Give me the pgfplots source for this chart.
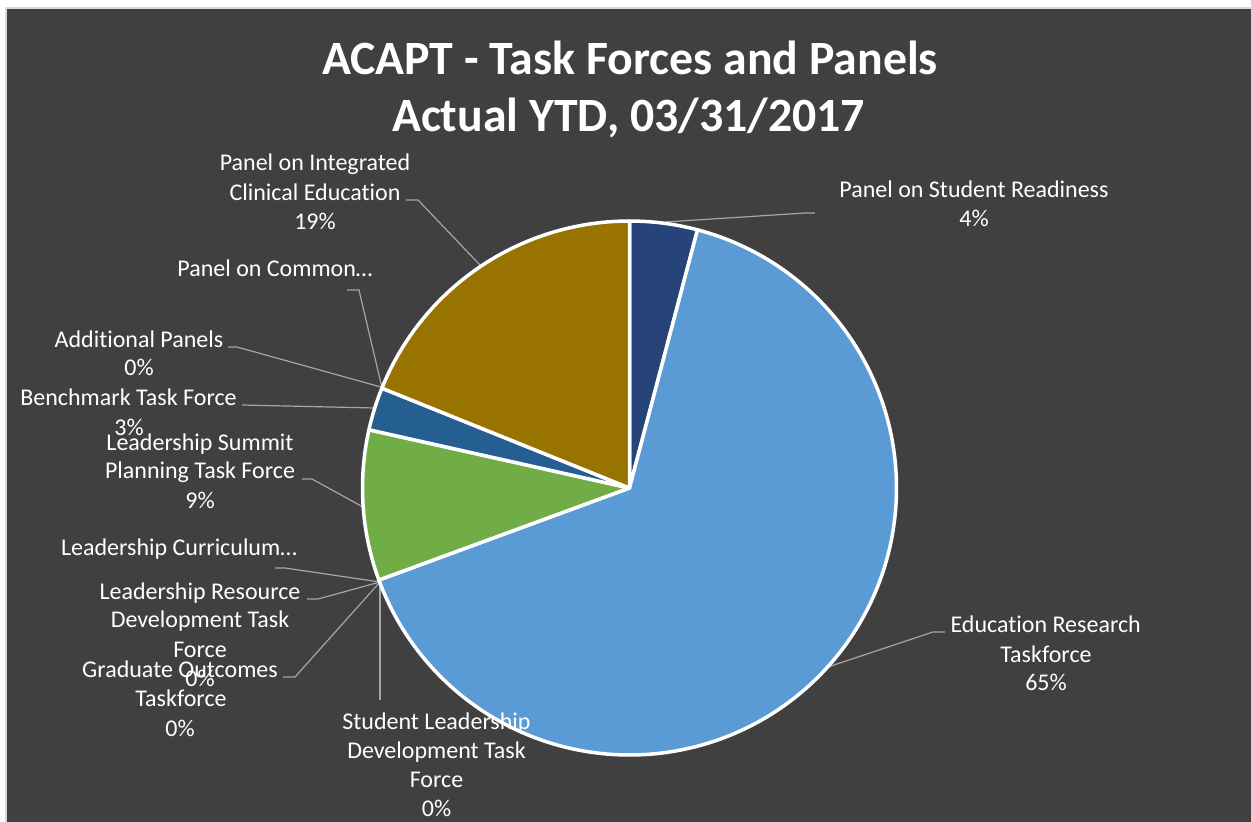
\documentclass[border=0pt]{standalone}
\usepackage{pgfplots}
\pgfplotsset{compat=1.18}
\usepackage{fontspec}
\setmainfont{Carlito}[Ligatures=NoCommon, RawFeature={-liga;-clig;-calt;-dlig}]
\definecolor{bg}{HTML}{404040}
\definecolor{bordergray}{HTML}{D9D9D9}
\definecolor{leader}{HTML}{A6A6A6}
\definecolor{cA}{HTML}{264478}
\definecolor{cB}{HTML}{5B9BD5}
\definecolor{cC}{HTML}{70AD47}
\definecolor{cD}{HTML}{255E91}
\definecolor{cE}{HTML}{997300}
\newcommand\lblfont{\fontsize{24}{29}\selectfont}
\newcommand\titlefont{\bfseries\fontsize{47.8}{57}\selectfont}
\newcommand\lbl[3]{\node[anchor=base, text=white, font=\lblfont, inner sep=0pt] at (axis cs:#1,#2) {#3};}
% Slice shares (percent), clockwise from 12 o'clock:
% Panel on Student Readiness 4.1; Education Research Taskforce 65.3;
% Student Leadership Dev. TF 0; Graduate Outcomes TF 0; Leadership Resource Dev. TF 0;
% Leadership Curriculum 0; Leadership Summit Planning TF 9.1; Benchmark TF 2.6;
% Additional Panels 0; Panel on Common 0; Panel on Integrated Clinical Education 18.9
\def\pA{4.1}\def\pB{65.3}\def\pC{9.1}\def\pD{2.6}\def\pE{18.9}
\begin{document}
\begin{tikzpicture}
\begin{axis}[width=1251pt, height=822pt, scale only axis,
  xmin=0, xmax=1251, ymin=0, ymax=822, y dir=reverse, hide axis]
\addplot[fill=white, draw=none] coordinates {(0,0) (1251,0) (1251,822) (0,822)} -- cycle;
\addplot[fill=bg, draw=none] coordinates {(6,8) (1251,8) (1251,822) (6,822)} -- cycle;
\addplot[draw=bordergray, line width=1.5pt] coordinates {(6,822) (6,8) (1251,8)};
% leader lines
\addplot[draw=leader, line width=1.2pt] coordinates {(665,222) (805,213) (815,213)};
\addplot[draw=leader, line width=1.2pt] coordinates {(406,200) (418,200) (480,265)};
\addplot[draw=leader, line width=1.2pt] coordinates {(347,290) (359,290) (382,388)};
\addplot[draw=leader, line width=1.2pt] coordinates {(228,347) (237,347) (381,387)};
\addplot[draw=leader, line width=1.2pt] coordinates {(242,405) (375,408)};
\addplot[draw=leader, line width=1.2pt] coordinates {(302,479) (312,479) (363,507)};
\addplot[draw=leader, line width=1.2pt] coordinates {(275,568) (285,568) (380,582)};
\addplot[draw=leader, line width=1.2pt] coordinates {(307,599) (318,599) (380,582)};
\addplot[draw=leader, line width=1.2pt] coordinates {(283,677) (295,677) (380,582)};
\addplot[draw=leader, line width=1.2pt] coordinates {(380,582) (380,700)};
\addplot[draw=leader, line width=1.2pt] coordinates {(828,667) (933,632) (945,632)};
% pie slices
\addplot[fill=cA, draw=white, line width=3.5pt, line join=round, domain=0:\pA*3.6, samples=20]
  ({629.5+267*sin(x)}, {488-267*cos(x)}) -- (axis cs:629.5,488) -- cycle;
\addplot[fill=cB, draw=white, line width=3.5pt, line join=round, domain=\pA*3.6:(\pA+\pB)*3.6, samples=200]
  ({629.5+267*sin(x)}, {488-267*cos(x)}) -- (axis cs:629.5,488) -- cycle;
\addplot[fill=cC, draw=white, line width=3.5pt, line join=round, domain=(\pA+\pB)*3.6:(\pA+\pB+\pC)*3.6, samples=40]
  ({629.5+267*sin(x)}, {488-267*cos(x)}) -- (axis cs:629.5,488) -- cycle;
\addplot[fill=cD, draw=white, line width=3.5pt, line join=round, domain=(\pA+\pB+\pC)*3.6:(\pA+\pB+\pC+\pD)*3.6, samples=15]
  ({629.5+267*sin(x)}, {488-267*cos(x)}) -- (axis cs:629.5,488) -- cycle;
\addplot[fill=cE, draw=white, line width=3.5pt, line join=round, domain=(\pA+\pB+\pC+\pD)*3.6:(\pA+\pB+\pC+\pD+\pE)*3.6, samples=60]
  ({629.5+267*sin(x)}, {488-267*cos(x)}) -- (axis cs:629.5,488) -- cycle;
% title
\node[anchor=base, text=white, font=\titlefont, inner sep=0pt] at (axis cs:630,74) {ACAPT - Task Forces and Panels};
\node[anchor=base, text=white, font=\titlefont, inner sep=0pt] at (axis cs:628.5,131) {Actual YTD, 03/31/2017};
% labels
\lbl{974}{197}{Panel on Student Readiness}
\lbl{974}{226}{4\%}
\lbl{315}{170.7}{Panel on Integrated}
\lbl{315}{200}{Clinical Education}
\lbl{315}{229}{19\%}
\lbl{275}{276.7}{Panel on Common…}
\lbl{139}{347}{Additional Panels}
\lbl{139}{375.7}{0\%}
\lbl{128.5}{405}{Benchmark Task Force}
\lbl{129}{435}{3\%}
\lbl{200}{450}{Leadership Summit}
\lbl{200}{478}{Planning Task Force}
\lbl{200}{508}{9\%}
\lbl{179}{555}{Leadership Curriculum…}
\lbl{200}{599}{Leadership Resource}
\lbl{200}{627.3}{Development Task}
\lbl{200}{657.7}{Force}
\lbl{200}{686.7}{0\%}
\lbl{180}{677}{Graduate Outcomes}
\lbl{181}{706.7}{Taskforce}
\lbl{180}{736}{0\%}
\lbl{436.5}{729}{Student Leadership}
\lbl{436.5}{758}{Development Task}
\lbl{436.5}{787.7}{Force}
\lbl{436.5}{816.7}{0\%}
\lbl{1045.7}{632.3}{Education Research}
\lbl{1046}{662.3}{Taskforce}
\lbl{1046}{690.7}{65\%}
\end{axis}
\end{tikzpicture}
\end{document}
